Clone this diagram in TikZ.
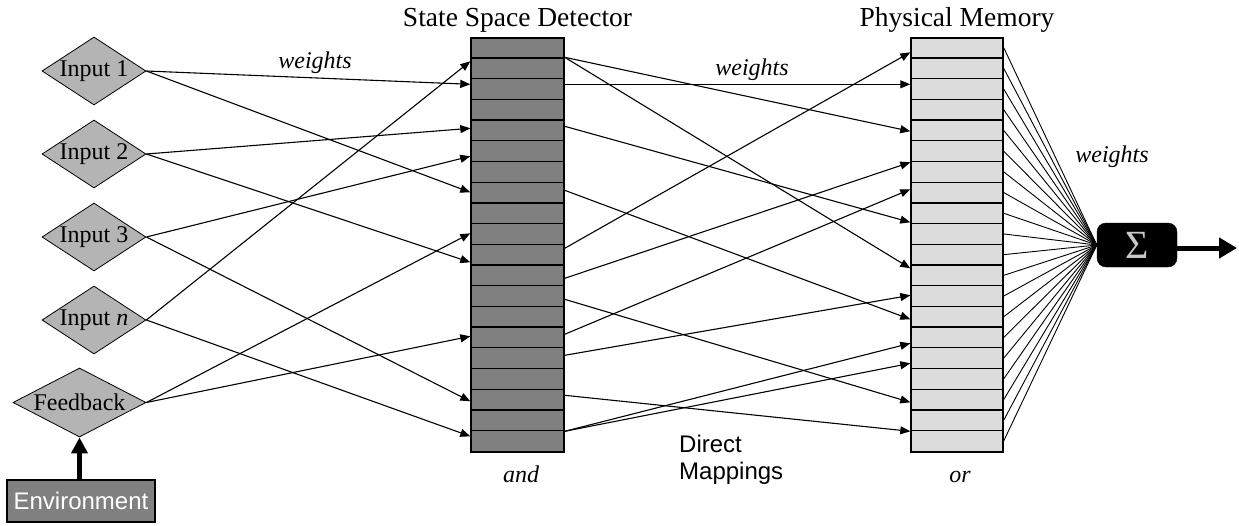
\documentclass[tikz,border=0pt]{standalone}
\usepackage{fontspec}
\setmainfont{Liberation Serif}
\setsansfont{Liberation Sans}
\usetikzlibrary{shapes.geometric,arrows.meta}
\definecolor{dgray}{HTML}{808080}
\definecolor{lgray}{HTML}{DCDCDC}
\definecolor{mgray}{HTML}{B4B4B4}
\definecolor{sgray}{HTML}{C8C8C8}
\begin{document}
\begin{tikzpicture}[x=1pt,y=-1pt,
  inbox/.style={diamond, draw, fill=mgray, line width=0.8pt, inner sep=0pt,
    minimum width=104pt, minimum height=68pt},
  lab/.style={font=\fontsize{24}{28}\selectfont, inner sep=0pt},
  ital/.style={font=\itshape\fontsize{24}{28}\selectfont},
  ttl/.style={font=\fontsize{27.5}{30}\selectfont, anchor=base},
  column/.style={rectangle, draw, line width=1.4pt, inner sep=0pt,
    minimum height=414pt},
  rowline/.style={line width=1.3pt},
  conn/.style={line width=1.1pt, -{Triangle[length=10pt,width=8pt]}},
  fan/.style={line width=0.9pt},
  thick arrow/.style={line width=5pt}
]
\useasboundingbox (0,0) rectangle (1239,525);

% input diamonds
\node[inbox, label={[lab]center:{Input 1}}] (in1) at (94,71) {};
\node[inbox, label={[lab]center:{Input 2}}] (in2) at (94,154) {};
\node[inbox, label={[lab]center:{Input 3}}] (in3) at (94,237) {};
\node[inbox, label={[lab]center:{Input \textit{n}}}] (inn) at (94,320) {};
\node[inbox, minimum width=133pt, minimum height=69pt,
      label={[lab]center:{Feedback}}] (fb) at (79.5,402.5) {};

% environment
\node[rectangle, draw, line width=1.4pt, fill=dgray, text=white, inner sep=0pt,
      minimum width=148pt, minimum height=42pt,
      font=\sffamily\fontsize{24}{24}\selectfont] (env) at (81,501) {Environment};
\draw[thick arrow, -{Triangle[length=16pt,width=16pt]}] (fb.south |- env.north) -- (fb.south);

% columns
\node[column, fill=dgray, minimum width=93pt] (det) at (517.5,245) {};
\node[column, fill=lgray, minimum width=92pt] (mem) at (957,245) {};
\foreach \i in {1,...,19} {
  \draw[rowline] ([yshift={-20.7*\i*1pt}]det.north west) -- ([yshift={-20.7*\i*1pt}]det.north east);
  \draw[rowline] ([yshift={-20.7*\i*1pt}]mem.north west) -- ([yshift={-20.7*\i*1pt}]mem.north east);
}

% titles and captions
\node[ttl] (tdet) at (517.5,26) {State Space Detector};
\node[ttl] (tmem) at (957,26) {Physical Memory};
\node[ital, anchor=base] (and) at (521,482) {and};
\node[ital, anchor=base] (or) at (960,482) {or};
\node[ital] (w1) at (315,63) {weights};
\node[ital] (w2) at (752,70) {weights};
\node[ital] (w3) at (1112,157) {weights};
\node[font=\sffamily\fontsize{24}{27}\selectfont, align=left, anchor=north west,
      inner sep=0pt] (dm) at (679,435) {Direct\\Mappings};

% attachment points
\foreach \y in {62,85,129,157,193,234,263,337,402,437}
  \coordinate (dl\y) at ([yshift={(38-\y)*1pt}]det.north west);
\foreach \y in {58,85,127,191,249,279,300,335,356,396,432}
  \coordinate (dr\y) at ([yshift={(38-\y)*1pt}]det.north east);
\foreach \y in {53,85,132,163,190,223,269,296,320,344,364,403,432}
  \coordinate (ml\y) at ([yshift={(38-\y)*1pt}]mem.north west);
\foreach \i in {1,...,20}
  \coordinate (mr\i) at ([yshift={-20.7*(\i-0.5)*1pt}]mem.north east);

% inputs -> detector
\draw[conn] (in1.east) -- (dl85);
\draw[conn] (in1.east) -- (dl193);
\draw[conn] (in2.east) -- (dl129);
\draw[conn] (in2.east) -- (dl263);
\draw[conn] (in3.east) -- (dl157);
\draw[conn] (in3.east) -- (dl402);
\draw[conn] (inn.east) -- (dl62);
\draw[conn] (inn.east) -- (dl437);
\draw[conn] (fb.east) -- (dl234);
\draw[conn] (fb.east) -- (dl337);

% detector -> memory
\draw[conn] (dr58) -- (ml132);
\draw[conn] (dr58) -- (ml269);
\draw[conn] (dr85) -- (ml85);
\draw[conn] (dr127) -- (ml223);
\draw[conn] (dr191) -- (ml320);
\draw[conn] (dr249) -- (ml53);
\draw[conn] (dr279) -- (ml163);
\draw[conn] (dr300) -- (ml403);
\draw[conn] (dr335) -- (ml190);
\draw[conn] (dr356) -- (ml296);
\draw[conn] (dr396) -- (ml432);
\draw[conn] (dr432) -- (ml344);
\draw[conn] (dr432) -- (ml364);

% summation
\node[rectangle, draw, fill=black, rounded corners=9pt, minimum width=80pt,
      minimum height=44pt, inner sep=0pt, text=sgray,
      font=\fontsize{40}{40}\selectfont] (sig) at (1137,245) {Σ};
\foreach \i in {1,...,20}
  \draw[fan] (mr\i) -- (sig.west);
\coordinate (out) at (1237,248);
\draw[thick arrow, -{Triangle[length=18pt,width=20pt]}] (sig.east |- out) -- (out);
\end{tikzpicture}
\end{document}
